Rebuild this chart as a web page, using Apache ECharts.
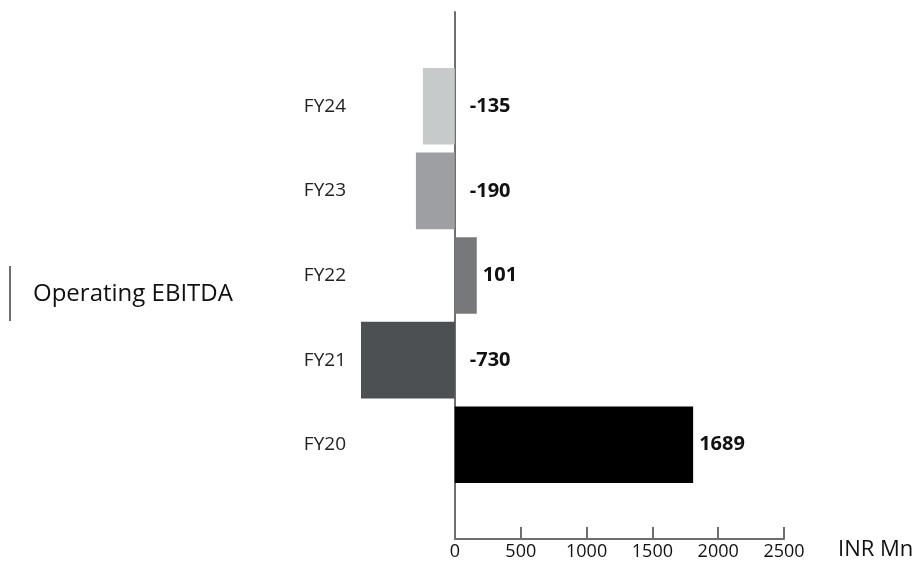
<!DOCTYPE html>
<html>
<head>
<meta charset="utf-8">
<script src="https://cdn.jsdelivr.net/npm/echarts@6/dist/echarts.min.js"></script>
<style>html,body{margin:0;padding:0;background:#fff;}#c{width:921px;height:571px;}</style>
</head>
<body>
<div id="c"></div>
<script>
// Data
var categories = ['FY20', 'FY21', 'FY22', 'FY23', 'FY24'];
var barLengths = [1810, -712, 167, -295, -242];   // drawn bar lengths (INR Mn scale)
var labelValues = [1689, -730, 101, -190, -135];  // printed values
var barColors = ['#000000', '#4d5053', '#76787b', '#9d9fa2', '#c7cacb'];
var axisTicks = [0, 500, 1000, 1500, 2000, 2500];
var titleText = 'Operating EBITDA';
var unitText = 'INR Mn';

var FONT = '"Open Sans", "Noto Sans", sans-serif';
var axisColor = '#6d6e71';

var chart = echarts.init(document.getElementById('c'), null, {renderer: 'canvas'});
chart.setOption({
  animation: false,
  backgroundColor: '#ffffff',
  textStyle: {fontFamily: FONT},
  title: {
    text: titleText,
    left: 28, top: 277,
    textStyle: {fontFamily: FONT, fontSize: 24, fontWeight: 'normal', color: '#111'}
  },
  graphic: [{
    type: 'line',
    shape: {x1: 10, y1: 266, x2: 10, y2: 321},
    style: {stroke: axisColor, lineWidth: 2}
  }],
  grid: [
    {left: 356, right: 137, top: 64, bottom: 84},
    {left: 455, right: 137, top: 12, bottom: 32}
  ],
  xAxis: [
    {gridIndex: 0, type: 'value', min: -750, max: 2500, show: false, splitLine: {show: false}},
    {
      gridIndex: 1, type: 'value', min: axisTicks[0], max: axisTicks[axisTicks.length - 1],
      interval: axisTicks[1] - axisTicks[0],
      axisLine: {show: true, lineStyle: {color: axisColor, width: 2}},
      axisTick: {show: true, inside: true, length: 12, lineStyle: {color: axisColor, width: 2}},
      axisLabel: {show: true, color: '#111', fontSize: 18, fontFamily: FONT, margin: 4,
        formatter: function (v) { return String(v); }},
      splitLine: {show: false},
      name: unitText, nameLocation: 'end', nameGap: 54,
      nameTextStyle: {color: '#111', fontSize: 22, fontFamily: FONT, verticalAlign: 'top', padding: [0, 0, 0, 0]}
    }
  ],
  yAxis: [
    {
      gridIndex: 0, type: 'category', data: categories,
      axisLine: {show: false}, axisTick: {show: false},
      axisLabel: {color: '#222', fontSize: 19, fontFamily: FONT, margin: 10},
      splitLine: {show: false}
    },
    {
      gridIndex: 1, type: 'value', min: 0, max: 1,
      axisLine: {show: true, lineStyle: {color: axisColor, width: 2}},
      axisTick: {show: false}, axisLabel: {show: false}, splitLine: {show: false}
    }
  ],
  series: [{
    type: 'bar',
    xAxisIndex: 0, yAxisIndex: 0,
    barCategoryGap: '9.5%',
    data: barLengths.map(function (v, i) {
      return {
        value: v,
        itemStyle: {color: barColors[i]},
        label: {distance: v < 0 ? 15 : 6}
      };
    }),
    label: {
      show: true,
      position: 'right',
      color: '#111',
      fontSize: 20,
      fontWeight: 'bold',
      fontFamily: FONT,
      formatter: function (p) { return String(labelValues[p.dataIndex]); }
    }
  }]
});
</script>
</body>
</html>
